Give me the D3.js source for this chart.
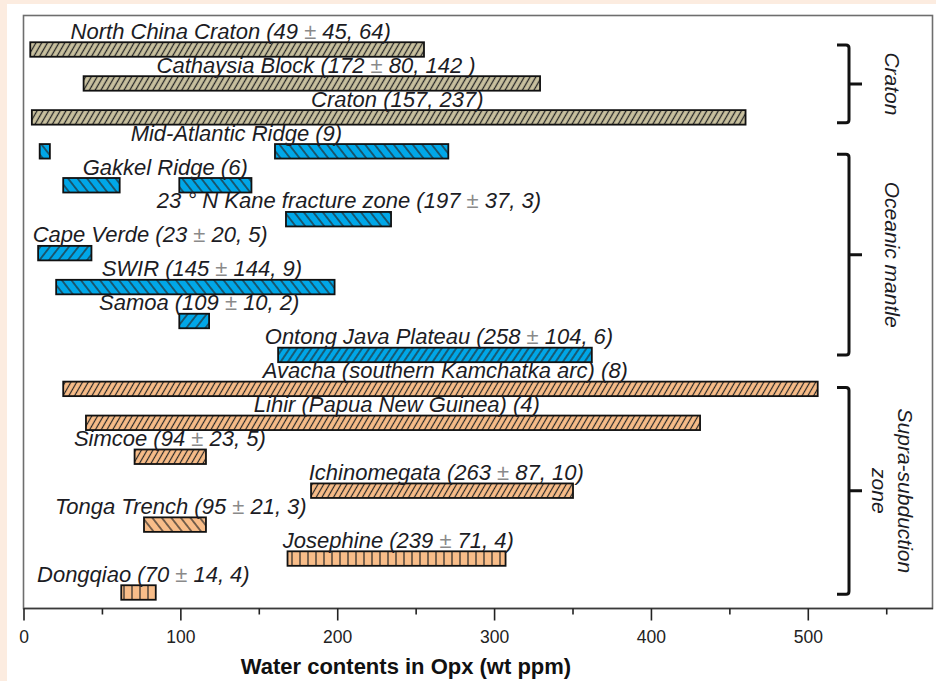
<!DOCTYPE html>
<html><head><meta charset="utf-8">
<script src="https://cdn.jsdelivr.net/npm/d3@7"></script>
<style>
body{margin:0;background:#fcece0;}
svg{display:block;}
</style>
</head><body>
<svg id="chart" width="936" height="681"></svg>
<script>
// ---------------- data ----------------
const siteLabels = [
  "North China Craton (49 ± 45, 64)",
  "Cathaysia Block (172 ± 80, 142 )",
  "Craton (157, 237)",
  "Mid-Atlantic Ridge (9)",
  "Gakkel Ridge (6)",
  "23 ° N Kane fracture zone (197 ± 37, 3)",
  "Cape Verde (23 ± 20, 5)",
  "SWIR (145 ± 144, 9)",
  "Samoa (109 ± 10, 2)",
  "Ontong Java Plateau (258 ± 104, 6)",
  "Avacha (southern Kamchatka arc) (8)",
  "Lihir (Papua New Guinea) (4)",
  "Simcoe (94 ± 23, 5)",
  "Ichinomegata (263 ± 87, 10)",
  "Tonga Trench (95 ± 21, 3)",
  "Josephine (239 ± 71, 4)",
  "Dongqiao (70 ± 14, 4)"
];
// water content (ppm) where each label text begins
const labelStart = [29.7, 84.5, 183, 68, 37.4, 84.7, 5.5, 49.5, 47.8, 153.5, 152.2, 146.5, 31.8, 181.5, 19.7, 165, 8.3];

// bar segments: row index, min and max water content (wt ppm), hatch kind
const segRow   = [0, 1, 2, 3, 3, 4, 4, 5, 6, 7, 8, 9, 10, 11, 12, 13, 14, 15, 16];
const segMin   = [4, 38, 5, 10, 160, 25, 99, 167, 9, 20.5, 99, 162, 25, 39.5, 70.5, 183, 76.5, 168, 62];
const segMax   = [255, 329, 460, 16.5, 270.5, 61, 145, 234, 43, 198, 118, 362, 506, 431, 116, 350, 116, 307, 84];
const segHatch = ["cratonF","cratonF","cratonF","oceanB","oceanB","oceanB","oceanB","oceanB","oceanF","oceanB","oceanF","oceanF2",
                  "supraF","supraF","supraF","supraF","supraB","supraV","supraV"];

const groupNames = [["Craton"], ["Oceanic mantle"], ["Supra-subduction", "zone"]];
const groupFirst = [-0.13, 3.09, 9.96];
const groupLast  = [2.16, 9.0, 16.05];

const majorTicks = [0, 100, 200, 300, 400, 500];
const minorTicks = [50, 150, 250, 350, 450, 550];
const xTitle = "Water contents in Opx (wt ppm)";

// ---------------- drawing ----------------
const svg = d3.select("#chart");
const FONT = "'Liberation Sans', Arial, Helvetica, sans-serif";

svg.append("rect").attr("x", 7).attr("y", 4).attr("width", 929).attr("height", 677).attr("fill", "#ffffff");

const x = d3.scaleLinear().domain([0, 579.5]).range([24, 933]);
const y = d3.scaleLinear().domain([0, 16]).range([49.5, 592.5]);
const barH = 14.5;

// patterns
const defs = svg.append("defs");
const hatchStyles = {
  cratonF: {base: "#cac2a0", angle: 30, gap: 5, w: 1.3},
  oceanB:  {base: "#00a7e8", angle: -38, gap: 7.5, w: 1.2},
  oceanF:  {base: "#00a7e8", angle: 38, gap: 7.5, w: 1.2},
  oceanF2: {base: "#00a7e8", angle: 34, gap: 6, w: 1.2},
  supraF:  {base: "#f8bd89", angle: 30, gap: 5, w: 1.2},
  supraB:  {base: "#f8bd89", angle: -38, gap: 7.5, w: 1.2},
  supraV:  {base: "#f8bd89", angle: 0, gap: 8, w: 1.2}
};
Object.entries(hatchStyles).forEach(([id, s]) => {
  const p = defs.append("pattern").attr("id", id)
    .attr("patternUnits", "userSpaceOnUse")
    .attr("width", s.gap).attr("height", s.gap)
    .attr("patternTransform", `rotate(${s.angle})`);
  p.append("rect").attr("width", s.gap).attr("height", s.gap).attr("fill", s.base);
  p.append("line").attr("x1", s.gap / 2).attr("x2", s.gap / 2).attr("y1", -1).attr("y2", s.gap + 1)
    .attr("stroke", "#262626").attr("stroke-width", s.w);
});

// frame
svg.append("rect").attr("x", 23.5).attr("y", 15.5).attr("width", 909).attr("height", 593)
  .attr("fill", "none").attr("stroke", "#6e6e6e").attr("stroke-width", 1.6);

// bars
const segs = segRow.map((r, i) => ({r, lo: segMin[i], hi: segMax[i], h: segHatch[i]}));
svg.append("g").selectAll("rect").data(segs).join("rect")
  .attr("x", d => x(d.lo))
  .attr("y", d => y(d.r) - barH / 2)
  .attr("width", d => x(d.hi) - x(d.lo))
  .attr("height", barH)
  .attr("fill", d => `url(#${d.h})`)
  .attr("stroke", "#111").attr("stroke-width", 1.8);

// labels
const lab = svg.append("g").attr("font-family", FONT).attr("font-style", "italic")
  .attr("font-size", 22).attr("fill", "#1c1c24");
siteLabels.forEach((t, i) => {
  const tx = lab.append("text").attr("x", x(labelStart[i])).attr("y", y(i) - barH / 2 - 3.5)
    .attr("xml:space", "preserve");
  const parts = t.split("±");
  parts.forEach((p, k) => {
    tx.append("tspan").text(p);
    if (k < parts.length - 1) tx.append("tspan").attr("fill", "#8a8a8a").text("±");
  });
});

// x axis
const axisY = 608.5;
svg.append("line").attr("x1", 23.5).attr("x2", 933).attr("y1", axisY).attr("y2", axisY)
  .attr("stroke", "#3a3a3a").attr("stroke-width", 1.6);
svg.append("g").selectAll("line").data(majorTicks).join("line")
  .attr("x1", d => x(d)).attr("x2", d => x(d)).attr("y1", axisY).attr("y2", axisY + 12)
  .attr("stroke", "#222").attr("stroke-width", 1.6);
svg.append("g").selectAll("line").data(minorTicks).join("line")
  .attr("x1", d => x(d)).attr("x2", d => x(d)).attr("y1", axisY).attr("y2", axisY + 6)
  .attr("stroke", "#222").attr("stroke-width", 1.6);
svg.append("g").selectAll("text").data(majorTicks).join("text")
  .attr("x", d => x(d)).attr("y", 643)
  .attr("text-anchor", "middle").attr("font-family", FONT).attr("font-size", 17.5)
  .attr("fill", "#222").text(d => d);
svg.append("text").attr("x", 406).attr("y", 674).attr("text-anchor", "middle")
  .attr("font-family", FONT).attr("font-weight", "bold").attr("font-size", 22)
  .attr("fill", "#111").text(xTitle);

// group brackets
const bx = 849;
groupNames.forEach((lines, g) => {
  const t = y(groupFirst[g]), b = y(groupLast[g]), m = (t + b) / 2;
  svg.append("path")
    .attr("d", `M${bx - 12},${t} L${bx - 3},${t} Q${bx},${t} ${bx},${t + 3} L${bx},${b - 3} Q${bx},${b} ${bx - 3},${b} L${bx - 12},${b} M${bx},${m} L${bx + 13},${m}`)
    .attr("fill", "none").attr("stroke", "#111").attr("stroke-width", 3).attr("stroke-linejoin", "round");
  const gt = svg.append("text").attr("transform", `translate(${892 + (lines.length - 1) * 13},${m}) rotate(90)`)
    .attr("text-anchor", "middle").attr("font-family", FONT).attr("font-style", "italic")
    .attr("font-size", 21).attr("fill", "#1c1c24");
  lines.forEach((l, k) => gt.append("tspan").attr("x", 0).attr("dy", k === 0 ? "0.35em" : "1.2em").text(l));
});
</script>
</body></html>
